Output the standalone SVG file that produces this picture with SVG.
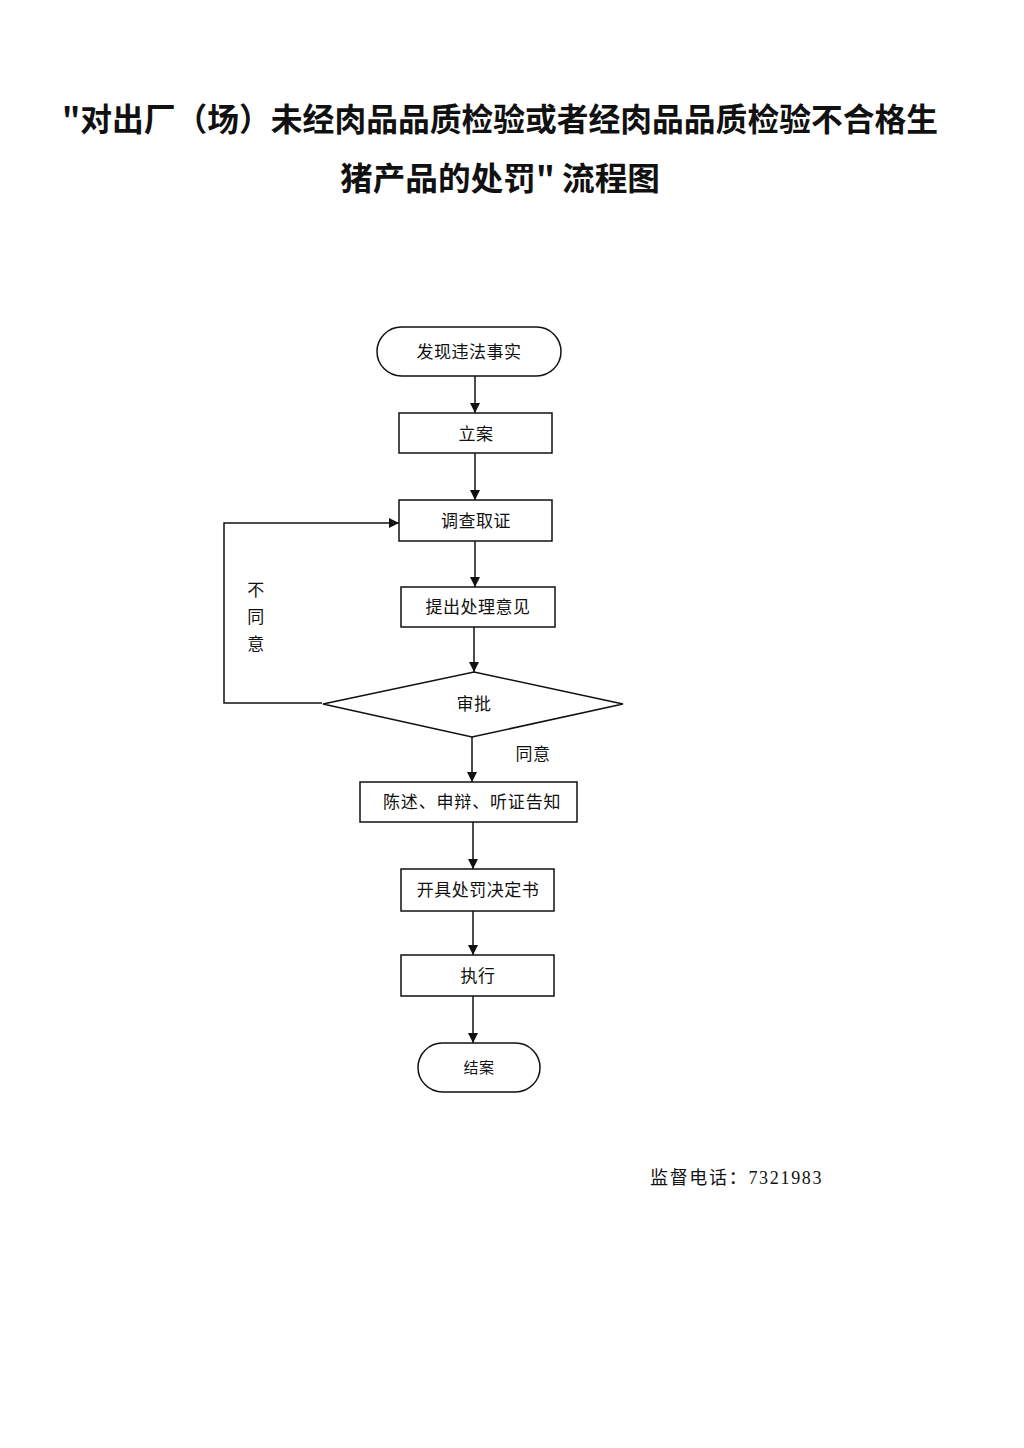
<svg xmlns="http://www.w3.org/2000/svg" width="1024" height="1448" viewBox="0 0 1024 1448">
<defs>
<marker id="ah" viewBox="0 0 10 10" refX="10" refY="5" markerWidth="10" markerHeight="10" markerUnits="userSpaceOnUse" orient="auto">
<path d="M0,0 L10,5 L0,10 z" fill="#111"/>
</marker>
<style>
.box{fill:#fff;stroke:#111;stroke-width:1.5}
.t{font-family:"Liberation Serif","Noto Sans CJK SC",serif;font-size:17px;letter-spacing:0.5px;fill:#111;text-anchor:middle;dominant-baseline:central}
.title{font-family:"Noto Sans CJK SC",sans-serif;font-weight:700;font-size:32px;fill:#111}
.ln{fill:none;stroke:#111;stroke-width:1.5}
</style>
</defs>
<rect width="1024" height="1448" fill="#fff"/>
<g id="title">
<text class="title" x="62" y="131" textLength="876" lengthAdjust="spacingAndGlyphs">"对出厂（场）未经肉品品质检验或者经肉品品质检验不合格生</text>
<text class="title" x="340" y="190" textLength="320" lengthAdjust="spacingAndGlyphs">猪产品的处罚" 流程图</text>
</g>
<g id="connectors">
<line class="ln" x1="475" y1="376" x2="475" y2="413" marker-end="url(#ah)"/>
<line class="ln" x1="475" y1="453" x2="475" y2="500" marker-end="url(#ah)"/>
<line class="ln" x1="475" y1="541" x2="475" y2="587" marker-end="url(#ah)"/>
<line class="ln" x1="474" y1="627" x2="474" y2="672" marker-end="url(#ah)"/>
<polyline class="ln" points="322,703 224,703 224,523 399,523" marker-end="url(#ah)"/>
<line class="ln" x1="472" y1="737" x2="472" y2="782" marker-end="url(#ah)"/>
<line class="ln" x1="473" y1="822" x2="473" y2="869" marker-end="url(#ah)"/>
<line class="ln" x1="473" y1="911" x2="473" y2="955" marker-end="url(#ah)"/>
<line class="ln" x1="473" y1="996" x2="473" y2="1043" marker-end="url(#ah)"/>
<text class="t" x="256" y="590">不</text>
<text class="t" x="256" y="617">同</text>
<text class="t" x="256" y="644">意</text>
<text class="t" x="533" y="754">同意</text>
</g>
<g id="n1"><rect class="box" x="377" y="327" width="184" height="49" rx="24.5"/><text class="t" x="469" y="352">发现违法事实</text></g>
<g id="n2"><rect class="box" x="399" y="413" width="153" height="40"/><text class="t" x="476" y="434">立案</text></g>
<g id="n3"><rect class="box" x="399" y="500" width="153" height="41"/><text class="t" x="476" y="521">调查取证</text></g>
<g id="n4"><rect class="box" x="401" y="587" width="154" height="40"/><text class="t" x="478" y="607">提出处理意见</text></g>
<g id="n5"><polygon class="box" points="474,672 623,704 472,737 323,704"/><text class="t" x="474" y="704">审批</text></g>
<g id="n6"><rect class="box" x="360" y="782" width="217" height="40"/><text class="t" x="472" y="802" textLength="178">陈述、申辩、听证告知</text></g>
<g id="n7"><rect class="box" x="401" y="869" width="153" height="42"/><text class="t" x="478" y="890">开具处罚决定书</text></g>
<g id="n8"><rect class="box" x="401" y="955" width="153" height="41"/><text class="t" x="478" y="976">执行</text></g>
<g id="n9"><rect class="box" x="418" y="1043" width="122" height="49" rx="24.5"/><text class="t" x="479" y="1068" style="font-size:15px">结案</text></g>
<g id="footer"><text class="t" x="650" y="1178" style="text-anchor:start;font-size:18px" textLength="172">监督电话：7321983</text></g>
</svg>
